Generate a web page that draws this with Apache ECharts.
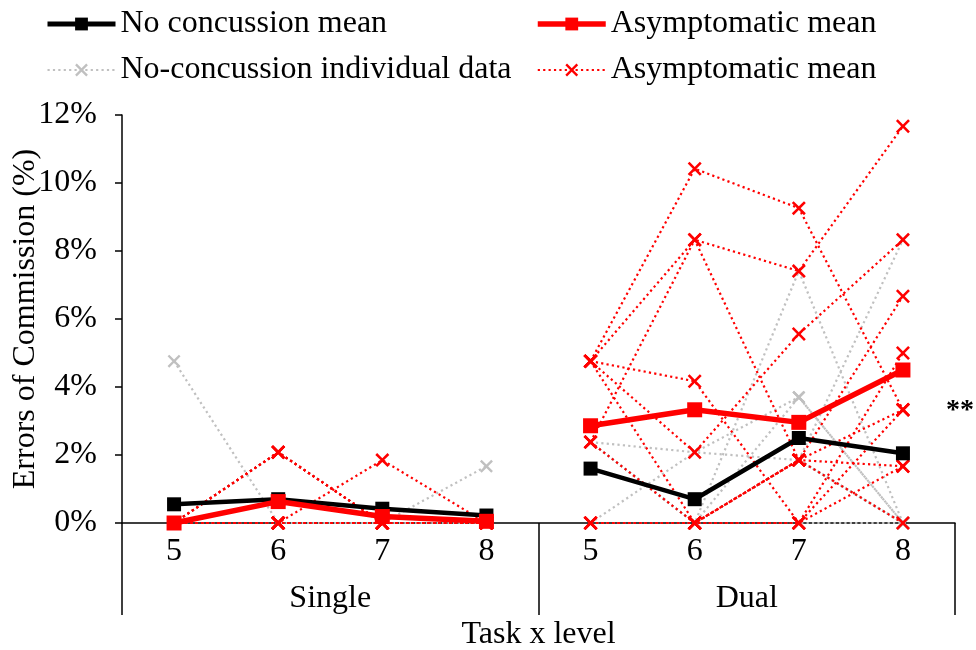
<!DOCTYPE html>
<html>
<head>
<meta charset="utf-8">
<script src="https://cdn.jsdelivr.net/npm/echarts@6/dist/echarts.min.js"></script>
<style>
  html, body { margin: 0; padding: 0; background: #ffffff; }
  #chart { width: 976px; height: 650px; }
</style>
</head>
<body>
<div id="chart"></div>
<script>
// Categories: level within each task block
const levels = ['5', '6', '7', '8', '5', '6', '7', '8'];
const tasks = ['Single', 'Dual'];

// Group means (% errors of commission), Single 5-8 then Dual 5-8
const noConcussionMean = [0.55, 0.70, 0.42, 0.22, 1.60, 0.70, 2.50, 2.05];
const asymptomaticMean = [0.00, 0.63, 0.19, 0.05, 2.86, 3.33, 2.96, 4.50];

// Individual participants, no-concussion group
const noConcussionIndividuals = [
  [4.76, 0.00, 0.00, 0.00, 2.38, 2.08, 1.85, 0.00],
  [0.00, 2.08, 0.00, 1.67, 0.00, 2.08, 3.70, 0.00],
  [0.00, 2.08, 0.00, 0.00, 2.38, 0.00, 7.41, 0.00],
  [0.00, 2.08, 0.00, 0.00, 2.38, 0.00, 1.85, 8.33],
  [0.00, 0.00, 0.00, 0.00, 2.38, 0.00, 3.70, 0.00],
  [0.00, 0.00, 0.00, 0.00, 2.38, 0.00, 1.85, 0.00],
  [0.00, 0.00, 0.00, 0.00, 0.00, 0.00, 0.00, 0.00],
  [0.00, 0.00, 0.00, 0.00, 2.38, 0.00, 1.85, 0.00],
  [0.00, 0.00, 0.00, 0.00, 0.00, 0.00, 1.85, 0.00]
];

// Individual participants, asymptomatic group
const asymptomaticIndividuals = [
  [0.00, 2.08, 0.00, 0.00, 4.76, 10.42, 9.26, 3.33],
  [0.00, 2.08, 0.00, 0.00, 4.76, 8.33, 7.41, 11.67],
  [0.00, 2.08, 0.00, 0.00, 2.38, 8.33, 1.85, 6.67],
  [0.00, 0.00, 1.85, 0.00, 4.76, 4.17, 0.00, 3.33],
  [0.00, 0.00, 0.00, 0.00, 4.76, 2.08, 5.56, 8.33],
  [0.00, 0.00, 0.00, 0.00, 4.76, 0.00, 1.85, 1.67],
  [0.00, 0.00, 0.00, 0.00, 2.38, 0.00, 0.00, 5.00],
  [0.00, 0.00, 0.00, 0.00, 0.00, 0.00, 0.00, 1.67],
  [0.00, 0.00, 0.00, 0.00, 0.00, 0.00, 1.85, 3.33],
  [0.00, 0.00, 0.00, 0.00, 0.00, 0.00, 1.85, 0.00]
];

const FONT = 'Liberation Serif';
const FS = 32;
const GREY = '#c0c0c0';
const RED = '#ff0000';
const CROSS = 'path://M0,1.3L1.3,0L5,3.7L8.7,0L10,1.3L6.3,5L10,8.7L8.7,10L5,6.3L1.3,10L0,8.7L3.7,5Z';

const NAME_NC_MEAN = 'No concussion mean';
const NAME_AS_MEAN = 'Asymptomatic mean';
const NAME_NC_IND = 'No-concussion individual data';
const NAME_AS_IND = 'Asymptomatic mean '; // second legend entry with the same caption

// Lines are broken between the Single and Dual blocks
function block(values, b) {
  return values.map((v, i) => (b === 0 ? i < 4 : i >= 4) ? v : null);
}

const series = [];

function addBlocks(name, values, style) {
  [0, 1].forEach(b => {
    series.push(Object.assign({
      name: name,
      type: 'line',
      data: block(values, b),
      connectNulls: false,
      silent: true
    }, JSON.parse(JSON.stringify(style))));
  });
}

const greyStyle = {
  symbol: CROSS, symbolSize: 13,
  itemStyle: { color: GREY },
  lineStyle: { color: GREY, width: 2.2, type: [2.2, 3.2] },
  z: 2
};
const redIndStyle = {
  symbol: CROSS, symbolSize: 14,
  itemStyle: { color: RED },
  lineStyle: { color: RED, width: 2.2, type: [2.2, 3.2] },
  z: 3
};

noConcussionIndividuals.forEach(v => addBlocks(NAME_NC_IND, v, greyStyle));
asymptomaticIndividuals.forEach(v => addBlocks(NAME_AS_IND, v, redIndStyle));

addBlocks(NAME_NC_MEAN, noConcussionMean, {
  symbol: 'rect', symbolSize: 14,
  itemStyle: { color: '#000000' },
  lineStyle: { color: '#000000', width: 4.5 },
  z: 4
});
addBlocks(NAME_AS_MEAN, asymptomaticMean, {
  symbol: 'rect', symbolSize: 15,
  itemStyle: { color: RED },
  lineStyle: { color: RED, width: 5.5 },
  z: 5
});

const legendBase = {
  orient: 'vertical',
  top: 8,
  padding: 0,
  itemWidth: 68,
  itemHeight: 16,
  itemGap: 14,
  selectedMode: false,
  textStyle: { fontFamily: FONT, fontSize: FS, color: '#000000' }
};

const option = {
  animation: false,
  backgroundColor: '#ffffff',
  textStyle: { fontFamily: FONT },
  legend: [
    Object.assign({}, legendBase, {
      left: 45,
      data: [
        { name: NAME_NC_MEAN, lineStyle: { width: 5 } },
        { name: NAME_NC_IND, lineStyle: { width: 2 } }
      ]
    }),
    Object.assign({}, legendBase, {
      left: 535,
      data: [
        { name: NAME_AS_MEAN, lineStyle: { width: 5.5 } },
        { name: NAME_AS_IND, lineStyle: { width: 2 } }
      ]
    })
  ],
  grid: { left: 122, right: 21, top: 115, bottom: 127, containLabel: false, outerBoundsMode: 'none' },
  xAxis: [
    {
      type: 'category',
      data: levels,
      boundaryGap: true,
      axisLine: { show: true, lineStyle: { color: '#000000', width: 1.5 } },
      axisTick: { show: false },
      axisLabel: { margin: 13, color: '#000000', fontFamily: FONT, fontSize: FS },
      splitLine: { show: false }
    },
    {
      type: 'category',
      data: tasks,
      position: 'bottom',
      offset: 92,
      boundaryGap: true,
      axisLine: { show: false },
      axisTick: { show: true, inside: true, length: 92, lineStyle: { color: '#000000', width: 1.5 } },
      axisLabel: { margin: -32, color: '#000000', fontFamily: FONT, fontSize: FS },
      name: 'Task x level',
      nameLocation: 'middle',
      nameGap: 4,
      nameMoveOverlap: false,
      nameTextStyle: { color: '#000000', fontFamily: FONT, fontSize: FS, verticalAlign: 'top' },
      splitLine: { show: false }
    }
  ],
  yAxis: {
    type: 'value',
    min: 0,
    max: 12,
    interval: 2,
    name: 'Errors of Commission (%)',
    nameLocation: 'middle',
    nameGap: 80,
    nameMoveOverlap: false,
    nameTextStyle: { color: '#000000', fontFamily: FONT, fontSize: FS },
    axisLine: { show: true, lineStyle: { color: '#000000', width: 1.5 } },
    axisTick: { show: true, length: 7, lineStyle: { color: '#000000', width: 1.5 } },
    axisLabel: { margin: 25, color: '#000000', fontFamily: FONT, fontSize: FS, formatter: '{value}%' },
    splitLine: { show: false }
  },
  graphic: [
    {
      type: 'text',
      right: 2,
      top: 397,
      style: { text: '**', font: 'bold 28px "Liberation Serif"', fill: '#000000' }
    }
  ],
  series: series
};

const chart = echarts.init(document.getElementById('chart'), null, { renderer: 'canvas' });
chart.setOption(option);
</script>
</body>
</html>
